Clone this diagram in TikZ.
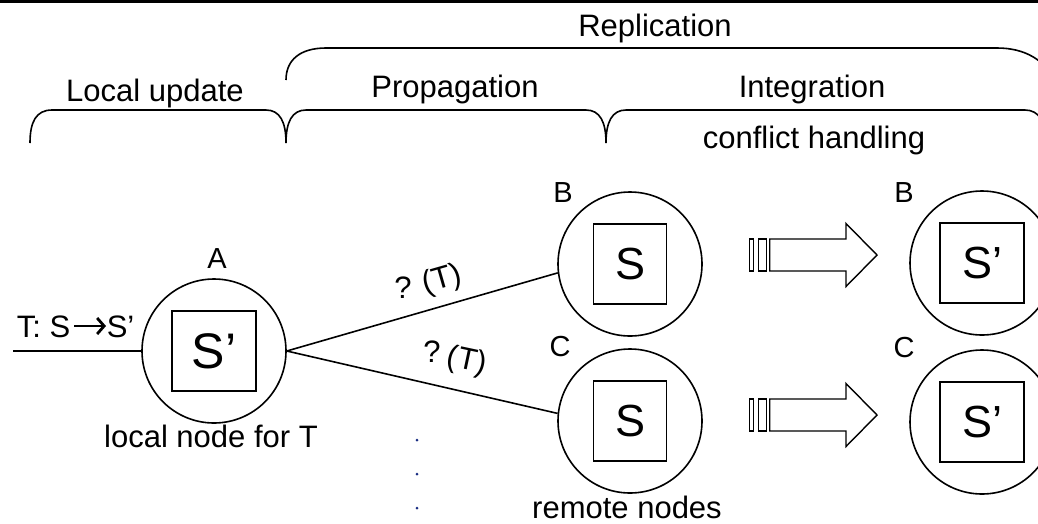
\documentclass[tikz,border=0pt]{standalone}
\usepackage{fontspec}
\setmainfont{Liberation Sans}
\usetikzlibrary{arrows.meta}
\definecolor{dotblue}{RGB}{25,45,130}
\begin{document}
\begin{tikzpicture}[x=1pt,y=-1pt,line width=1.6pt,
  lbl/.style={font=\fontsize{31}{37}\selectfont,inner sep=0pt,anchor=base},
  letter/.style={font=\fontsize{29}{34}\selectfont,inner sep=0pt,anchor=base},
  site/.style={circle,draw,minimum size=144pt,inner sep=0pt},
  state/.style={rectangle,draw,minimum height=80pt,inner sep=0pt,
                font=\fontsize{45}{50}\selectfont},
  fatarrow/.style={draw,line width=1.4pt,line join=miter},
  implies/.style={line width=2.8pt,-{Straight Barb[length=7pt,width=16pt,line width=2.8pt]}}]
\useasboundingbox (0,0) rectangle (1038,523);
\clip (0,0) rectangle (1038,523);

% header rule
\draw[line width=3pt] (0,1.5) -- (1038,1.5);

% phase braces
\draw (286,80) .. controls (286,60) and (300,48) .. (326,48) -- (997,48)
      .. controls (1025,48) and (1045,60) .. (1056,82);
\draw (30,143) .. controls (30,122) and (36,110) .. (52,110) -- (266,110)
      .. controls (280,110) and (286,122) .. (286,143)
      .. controls (286,122) and (292,110) .. (306,110) -- (586,110)
      .. controls (600,110) and (606,122) .. (606,143)
      .. controls (606,122) and (612,110) .. (626,110) -- (1025,110)
      .. controls (1039,110) and (1046,122) .. (1046,143);

% phase titles
\node[lbl] (trep) at (655,36) {Replication};
\node[lbl] (tloc) at (155,101) {Local update};
\node[lbl] (tprop) at (455,97) {Propagation};
\node[lbl] (tint) at (812,97) {Integration};
\node[lbl] (tconf) at (814,148) {conflict handling};

% sites
\node[site] (A) at (214,351) {};
\node[state,minimum width=84pt,font=\fontsize{50}{56}\selectfont] (sA) at (A) {S’};
\node[site] (B) at (630,264) {};
\node[state,minimum width=73pt] (sB) at (B) {S};
\node[site] (C) at (630,421) {};
\node[state,minimum width=73pt] (sC) at (C) {S};
\node[site] (B2) at (982,263) {};
\node[state,minimum width=84pt] (sB2) at (B2) {S’};
\node[site] (C2) at (982,422) {};
\node[state,minimum width=84pt] (sC2) at (C2) {S’};

% site names
\node[letter] (nA) at (217,268) {A};
\node[letter] (nB) at (563,202) {B};
\node[letter] (nC) at (560,356) {C};
\node[letter] (nB2) at (904,202) {B};
\node[letter] (nC2) at (904,357) {C};

% incoming transaction
\coordinate (tin) at (13,351);
\draw (tin) -- (A.west);
\node[lbl,anchor=base west] (tS) at (16,337) {T: S};
\node[lbl,anchor=base west] (tS2) at (106,337) {S’};
\draw[implies] (tS.base east) ++(3,-11) coordinate (ia) -- (ia -| tS2.west);

% propagation lines
\draw (A.east) -- (B.187);
\draw (A.east) -- (C.174);
\node[lbl,anchor=center] (qB) at (403,288) {?};
\node[lbl,anchor=center,rotate=16] (tB) at (442,280) {(T)};
\node[lbl,anchor=center] (qC) at (432,352) {?};
\node[lbl,anchor=center,rotate=-12] (tC) at (467,362) {(T)};

% captions
\node[lbl] (cap1) at (211,447) {local node for T};
\node[lbl] (cap2) at (627,518) {remote nodes};

% further sites
\foreach \yy in {440,474,508} \fill[dotblue] (417,\yy) circle (1.5pt);

% integration arrows
\foreach \y in {255,415} {
  \draw[fatarrow] (749.7,\y-16) rectangle (753.3,\y+16);
  \draw[fatarrow] (758.7,\y-16) rectangle (766.3,\y+16);
  \draw[fatarrow] (769.7,\y-16) -- (846,\y-16) -- (846,\y-31.5) -- (877,\y)
        -- (846,\y+31.5) -- (846,\y+16) -- (769.7,\y+16) -- cycle;
}
\end{tikzpicture}
\end{document}
